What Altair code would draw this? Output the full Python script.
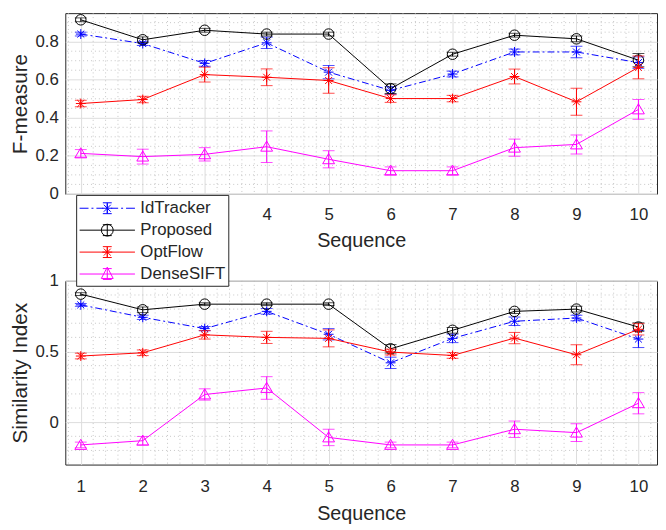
import altair as alt
import pandas as pd
import numpy as np

seq = list(range(1, 11))
series_names = ["IdTracker", "Proposed", "OptFlow", "DenseSIFT"]
series_colors = ["#0000ff", "#000000", "#ff0000", "#ff00ff"]

# F-measure (top panel)
f_idtracker = [0.84, 0.79, 0.686, 0.794, 0.64, 0.544, 0.63, 0.746, 0.746, 0.69]
f_idtracker_err = [0.01, 0.01, 0.015, 0.03, 0.035, 0.02, 0.015, 0.015, 0.03, 0.03]
f_proposed = [0.915, 0.81, 0.86, 0.84, 0.84, 0.553, 0.734, 0.834, 0.815, 0.703]
f_proposed_err = [0.01, 0.015, 0.01, 0.01, 0.01, 0.025, 0.01, 0.01, 0.015, 0.035]
f_optflow = [0.475, 0.496, 0.627, 0.613, 0.596, 0.501, 0.501, 0.617, 0.484, 0.665]
f_optflow_err = [0.017, 0.017, 0.039, 0.044, 0.067, 0.02, 0.017, 0.039, 0.071, 0.06]
f_densesift = [0.213, 0.196, 0.208, 0.248, 0.182, 0.122, 0.122, 0.243, 0.26, 0.444]
f_densesift_err = [0.02, 0.039, 0.035, 0.083, 0.045, 0.02, 0.02, 0.045, 0.05, 0.052]

# Similarity Index (bottom panel)
s_idtracker = [0.83, 0.742, 0.662, 0.784, 0.622, 0.42, 0.593, 0.714, 0.737, 0.588]
s_idtracker_err = [0.01, 0.015, 0.015, 0.02, 0.04, 0.04, 0.03, 0.03, 0.02, 0.06]
s_proposed = [0.906, 0.795, 0.835, 0.835, 0.835, 0.519, 0.65, 0.784, 0.80, 0.673]
s_proposed_err = [0.01, 0.02, 0.01, 0.01, 0.01, 0.03, 0.02, 0.015, 0.02, 0.03]
s_optflow = [0.468, 0.491, 0.618, 0.6, 0.593, 0.496, 0.472, 0.595, 0.477, 0.657]
s_optflow_err = [0.02, 0.02, 0.03, 0.043, 0.06, 0.02, 0.02, 0.04, 0.07, 0.04]
s_densesift = [-0.161, -0.131, 0.196, 0.242, -0.108, -0.161, -0.161, -0.05, -0.074, 0.134]
s_densesift_err = [0.02, 0.03, 0.04, 0.08, 0.058, 0.02, 0.02, 0.058, 0.063, 0.075]

FONT = "Liberation Sans"
TXT = "#262626"


def long_df(vals, errs):
    rows = []
    for name, v, e in zip(series_names, vals, errs):
        for s, vv, ee in zip(seq, v, e):
            rows.append({"seq": s, "series": name, "value": vv,
                         "lo": vv - ee, "hi": vv + ee})
    return pd.DataFrame(rows)


top_df = long_df([f_idtracker, f_proposed, f_optflow, f_densesift],
                 [f_idtracker_err, f_proposed_err, f_optflow_err, f_densesift_err])
bot_df = long_df([s_idtracker, s_proposed, s_optflow, s_densesift],
                 [s_idtracker_err, s_proposed_err, s_optflow_err, s_densesift_err])

ASTERISK = "M-1,0L1,0M0,-1L0,1M-0.7,-0.7L0.7,0.7M-0.7,0.7L0.7,-0.7"
TRIANGLE = "M0,-0.95L1,0.75L-1,0.75Z"
marker_shapes = [ASTERISK, "circle", ASTERISK, TRIANGLE]
marker_sizes = [100, 113, 100, 144]
line_dashes = [[7, 3, 2, 3], None, None, None]


def circle_path(cx, cy, r, n=16):
    pts = []
    for k in range(n):
        a = 2 * np.pi * k / n
        pts.append(f"{cx + r * np.cos(a):.3f},{cy + r * np.sin(a):.3f}")
    return "M" + "L".join(pts) + "Z"


# legend glyphs: line + error bar + marker (unit = 10 px, path starts at -1)
EB = "M1.8,-0.55L1.8,0.55M1.35,-0.55L2.25,-0.55M1.35,0.55L2.25,0.55"
AST_L = "M1.3,0L2.3,0M1.8,-0.5L1.8,0.5M1.45,-0.35L2.15,0.35M1.45,0.35L2.15,-0.35"
leg_id = ("M-1,0L-0.1,0M0.2,0L0.4,0M0.7,0L1.4,0M2.2,0L2.9,0M3.2,0L3.4,0M3.7,0L4.6,0"
          + EB + AST_L)
leg_prop = "M-1,0L4.6,0" + EB + circle_path(1.8, 0, 0.6)
leg_opt = "M-1,0L4.6,0" + EB + AST_L
leg_dense = "M-1,0L4.6,0" + EB + "M1.8,-0.7L2.4,0.45L1.2,0.45Z"
color_scale = alt.Scale(domain=series_names, range=series_colors)
shape_scale = alt.Scale(domain=series_names, range=[leg_id, leg_prop, leg_opt, leg_dense])

XDOM = [0.75, 10.3]
WIDTH = 599


def panel(df, ydom, yvals, ytitle, minor_step, major_step, height, legend,
          xlabpad, xtitlepad):
    xs = alt.Scale(domain=XDOM, nice=False, zero=False)
    ys = alt.Scale(domain=ydom, nice=False, zero=False)
    xaxis = alt.Axis(values=seq, title="Sequence", labelPadding=xlabpad,
                     titlePadding=xtitlepad, ticks=False, grid=True, labelAngle=0,
                     titleFontSize=20)
    yaxis = alt.Axis(values=yvals, title=ytitle, format="~g", labelPadding=7,
                     titlePadding=5, ticks=False, grid=True, titleFontSize=21)

    def X(f):
        return alt.X(f, type="quantitative", scale=xs, axis=xaxis)

    def Y(f):
        return alt.Y(f, type="quantitative", scale=ys, axis=yaxis)

    mx = [round(v, 2) for v in np.arange(0.8, 10.3, 0.2) if abs(v - round(v)) > 1e-6]
    nmin = int(round((ydom[1] - ydom[0]) / minor_step))
    my = []
    for i in range(nmin + 1):
        v = round(ydom[0] + i * minor_step, 3)
        if abs(v / major_step - round(v / major_step)) > 1e-6 and ydom[0] < v < ydom[1]:
            my.append(v)

    gx = alt.Chart(pd.DataFrame({"mx": mx})).mark_rule(
        color="#b8b8b8", strokeDash=[1, 3], strokeWidth=0.8).encode(x=X("mx"))
    gy = alt.Chart(pd.DataFrame({"my": my})).mark_rule(
        color="#b8b8b8", strokeDash=[1, 3], strokeWidth=0.8).encode(y=Y("my"))
    layers = [gx, gy]

    for name, colr, shp, sz, dash in zip(series_names, series_colors, marker_shapes,
                                          marker_sizes, line_dashes):
        b = alt.Chart(df).transform_filter(alt.datum.series == name)
        layers.append(b.mark_rule(strokeWidth=1, color=colr).encode(
            x=X("seq"), y=Y("lo"), y2="hi"))
        layers.append(b.mark_tick(orient="horizontal", size=12, thickness=1,
                                  color=colr).encode(x=X("seq"), y=Y("lo")))
        layers.append(b.mark_tick(orient="horizontal", size=12, thickness=1,
                                  color=colr).encode(x=X("seq"), y=Y("hi")))
        if dash:
            ln = b.mark_line(strokeWidth=1, color=colr, strokeDash=dash)
        else:
            ln = b.mark_line(strokeWidth=1, color=colr)
        layers.append(ln.encode(x=X("seq"), y=Y("value")))
        layers.append(b.mark_point(shape=shp, size=sz, filled=False, strokeWidth=1,
                                   opacity=1, color=colr).encode(x=X("seq"), y=Y("value")))

    if legend:
        lg = alt.Legend(
            orient="none", legendX=11, legendY=184, title=None,
            symbolSize=400, symbolStrokeWidth=1, labelFontSize=17,
            labelFont=FONT, labelColor=TXT, labelOffset=41, rowPadding=3.2,
            padding=3, fillColor="white", strokeColor="#262626",
            symbolOpacity=1, zindex=5)
        leg = alt.Chart(df).mark_point(filled=False, opacity=0).encode(
            x=X("seq"), y=Y("value"),
            color=alt.Color("series:N", scale=color_scale, legend=lg),
            shape=alt.Shape("series:N", scale=shape_scale, legend=lg))
        layers.append(leg)
    return alt.layer(*layers).properties(width=WIDTH, height=height)


top = panel(top_df, [0, 0.95], [0, 0.2, 0.4, 0.6, 0.8], "F-measure", 0.05, 0.2, 183,
            True, 13, 8)
bottom = panel(bot_df, [-0.3, 1], [0, 0.5, 1], "Similarity Index", 0.1, 0.5, 186,
               False, 14, 10)

chart = alt.vconcat(top, bottom, spacing=88, bounds="flush").properties(
    padding=0
).configure_view(stroke=TXT, strokeWidth=1).configure_axis(
    labelFont=FONT, titleFont=FONT, labelFontSize=17,
    labelColor=TXT, titleColor=TXT, titleFontWeight="normal",
    gridColor="#dcdcdc", gridWidth=1, domain=False
)

chart.save("out.html", embed_options={"renderer": "svg", "actions": False})
